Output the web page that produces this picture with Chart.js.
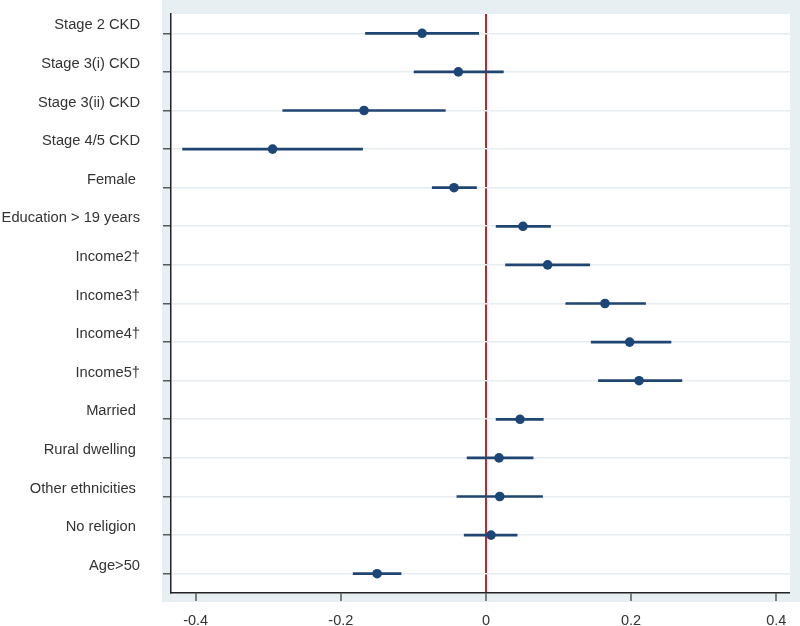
<!DOCTYPE html>
<html>
<head>
<meta charset="utf-8">
<script src="https://cdn.jsdelivr.net/npm/chart.js@4"></script>
<style>
  html, body { margin: 0; padding: 0; background: #ffffff; }
  #wrap { width: 800px; height: 626px; }
</style>
</head>
<body>
<div id="wrap"><canvas id="c" width="800" height="626"></canvas></div>
<script>
const categories = [
  "Stage 2 CKD", "Stage 3(i) CKD", "Stage 3(ii) CKD", "Stage 4/5 CKD",
  "Female ", "Education > 19 years", "Income2\u2020", "Income3\u2020",
  "Income4\u2020", "Income5\u2020", "Married ", "Rural dwelling ",
  "Other ethnicities ", "No religion ", "Age>50"
];
const estimates = [-0.088, -0.038, -0.168, -0.294, -0.044, 0.051, 0.085, 0.164, 0.198, 0.211, 0.047, 0.018, 0.019, 0.007, -0.150];
const lowerCI   = [-0.166, -0.099, -0.280, -0.418, -0.074, 0.014, 0.027, 0.110, 0.145, 0.155, 0.014, -0.026, -0.040, -0.030, -0.183];
const upperCI   = [-0.010, 0.024, -0.056, -0.170, -0.013, 0.089, 0.143, 0.220, 0.255, 0.270, 0.079, 0.065, 0.078, 0.043, -0.117];
const xTicks = [-0.4, -0.2, 0, 0.2, 0.4];

const ciRanges = lowerCI.map((lo, i) => [lo, upperCI[i]]);

const bgPlugin = {
  id: 'bg',
  beforeDraw(chart) {
    const ctx = chart.ctx, a = chart.chartArea;
    ctx.save();
    ctx.fillStyle = '#e8eff2';
    ctx.fillRect(a.left - 9, 0, chart.width - (a.left - 9), a.bottom + 9);
    ctx.fillStyle = '#ffffff';
    ctx.fillRect(a.left, a.top, a.right - a.left, a.bottom - a.top);
    ctx.restore();
  }
};

const FONT = "'Liberation Sans', Arial, sans-serif";

new Chart(document.getElementById('c'), {
  type: 'bar',
  data: {
    labels: categories,
    datasets: [
      {
        type: 'bar',
        data: ciRanges,
        backgroundColor: '#1f4570',
        borderWidth: 0,
        barThickness: 2,
        order: 2
      },
      {
        type: 'line',
        data: estimates,
        showLine: false,
        pointRadius: 4.8,
        pointBackgroundColor: '#1b4677',
        pointBorderColor: '#1b4677',
        pointBorderWidth: 0,
        order: 1
      }
    ]
  },
  options: {
    indexAxis: 'y',
    responsive: false,
    animation: false,
    devicePixelRatio: 1,
    layout: { padding: { top: 14, right: 10, bottom: 0, left: 0 } },
    plugins: { legend: { display: false }, tooltip: { enabled: false } },
    scales: {
      x: {
        type: 'linear',
        min: -0.434,
        max: 0.419,
        afterBuildTicks(scale) { scale.ticks = xTicks.map(v => ({ value: v })); },
        afterFit(scale) { scale.height = 33; scale.paddingLeft = 0; scale.paddingRight = 0; },
        border: { display: true, color: '#222', width: 1.5 },
        grid: {
          drawOnChartArea: true,
          color: ctx => (ctx.tick && ctx.tick.value === 0) ? '#c0262f' : 'rgba(0,0,0,0)',
          lineWidth: ctx => (ctx.tick && ctx.tick.value === 0) ? 2 : 0,
          tickColor: '#333',
          tickWidth: 1.2,
          tickLength: 8,
          drawTicks: true
        },
        ticks: {
          color: '#333',
          font: { family: FONT, size: 14.5 },
          padding: 11,
          callback: v => String(v)
        }
      },
      y: {
        type: 'category',
        offset: true,
        afterFit(scale) { scale.width = 171; scale.paddingTop = 0; scale.paddingBottom = 0; },
        border: { display: true, color: '#222', width: 1.5 },
        grid: {
          offset: false,
          color: '#e6ecef',
          lineWidth: 1.6,
          tickColor: '#333',
          tickWidth: 1.2,
          tickLength: 8
        },
        ticks: {
          color: '#333',
          font: { family: FONT, size: 14.7 },
          padding: 23,
          labelOffset: -8,
          autoSkip: false
        }
      }
    }
  },
  plugins: [bgPlugin]
});
</script>
</body>
</html>
